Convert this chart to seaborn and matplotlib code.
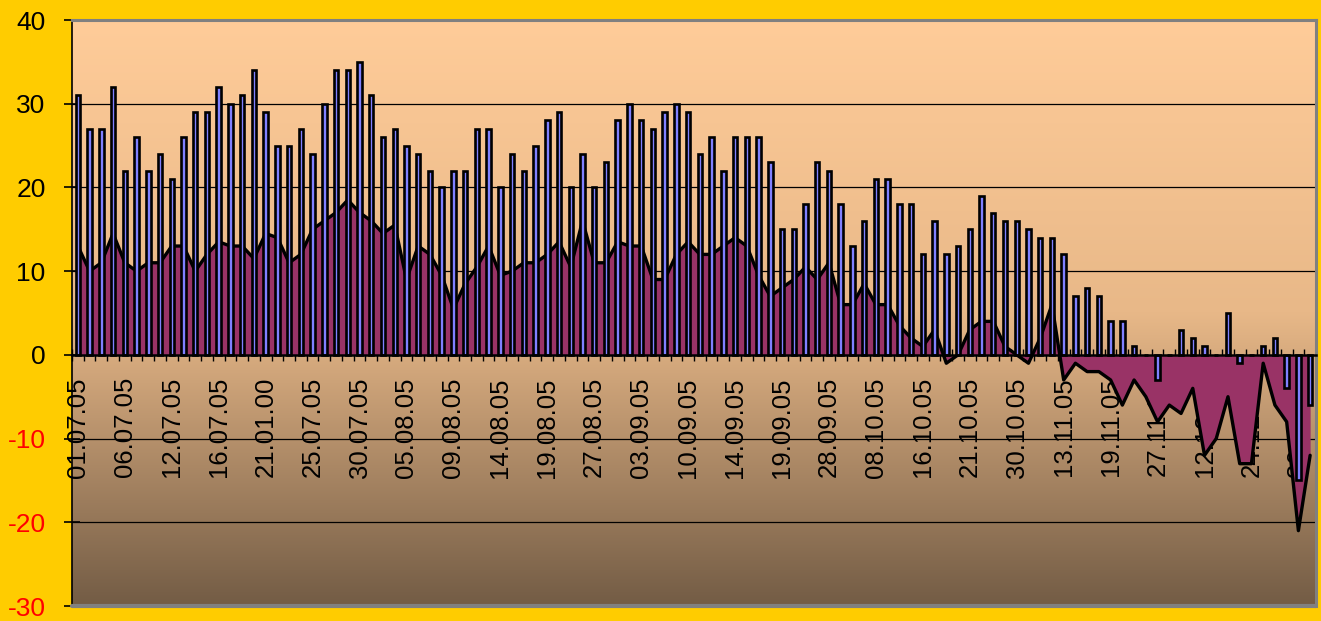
import numpy as np
import matplotlib
matplotlib.use("Agg")
import matplotlib.pyplot as plt
import seaborn as sns
from matplotlib.colors import LinearSegmentedColormap

# ---- data ----
bar_values = [31, 27, 27, 32, 22, 26, 22, 24, 21, 26, 29, 29, 32, 30, 31, 34, 29, 25, 25, 27,
              24, 30, 34, 34, 35, 31,
              26, 27, 25, 24, 22, 20, 22, 22, 27, 27, 20, 24, 22, 25, 28, 29, 20, 24, 20, 23,
              28, 30, 28, 27, 29, 30,
              29, 24, 26, 22, 26, 26, 26, 23, 15, 15, 18, 23, 22, 18, 13, 16, 21, 21, 18, 18,
              12, 16, 12, 13, 15, 19,
              17, 16, 16, 15, 14, 14, 12, 7, 8, 7, 4, 4, 1, 0, -3, 0, 3, 2, 1, 0, 5, -1, 0, 1,
              2, -4, -15, -6]

area_values = [13, 10, 11, 14.5, 11, 10, 11, 11, 13, 13, 10, 12, 13.5, 13, 13, 11.5, 14.5, 14,
               11, 12, 15, 16, 17, 18.5, 17, 16, 14.5, 15.5, 9, 13, 12, 9.5, 5.5, 8.5, 10.5, 13,
               9.5, 10, 11, 11, 12, 13.5, 10.5, 16, 11, 11, 13.5, 13, 13, 9, 9, 12, 13.5, 12,
               12, 13, 14, 13, 9.5, 7, 8, 9, 10.5, 9, 11, 6, 6, 8.5, 6, 6, 3.5, 2,
               1, 3, -1, 0, 3, 4, 4, 1, 0, -1, 2, 6, -3, -1, -2, -2, -3, -6, -3, -5,
               -8, -6, -7, -4, -12, -10, -5, -13, -13, -1, -6, -8, -21, -12]

tick_labels = ["01.07.05", "06.07.05", "12.07.05", "16.07.05", "21.01.00", "25.07.05",
               "30.07.05", "05.08.05", "09.08.05", "14.08.05", "19.08.05", "27.08.05",
               "03.09.05", "10.09.05", "14.09.05", "19.09.05", "28.09.05", "08.10.05",
               "16.10.05", "21.10.05", "30.10.05", "13.11.05", "19.11.05", "27.11.05",
               "12.12.05", "24.12.05", "30.12.05"]
label_step = 4
y_ticks = [-30, -20, -10, 0, 10, 20, 30, 40]

# ---- styling ----
sns.set_theme(style="white")
plt.rcParams['font.family'] = ['Liberation Sans', 'DejaVu Sans']

W, H = 1321, 621
fig = plt.figure(figsize=(W / 100, H / 100), dpi=100, facecolor='#FFCC00')
ax = fig.add_axes([72 / W, 15 / H, 1244 / W, 586 / H])

n = len(bar_values)
x = np.arange(n)

# gradient plot background
grad = np.linspace(0, 1, 256).reshape(-1, 1)
cmap = LinearSegmentedColormap.from_list('bg', ['#FFCC99', '#E8B888', '#735C45'])
ax.imshow(grad, cmap=cmap, aspect='auto', extent=[-0.5, n - 0.5, -30, 40],
          origin='upper', zorder=0, interpolation='bilinear')

# gridlines
for yv in [30, 20, 10, -10, -20]:
    ax.axhline(yv, color='black', lw=0.9, zorder=1)

# area series
ax.fill_between(x, area_values, 0, color='#993366', lw=0, zorder=2)
sns.lineplot(x=x, y=area_values, color='black', lw=2.4, ax=ax, zorder=2.5, sort=False)

# bar series
sns.barplot(x=x, y=bar_values, color='#8080FF', saturation=1, width=0.38,
            edgecolor='black', linewidth=1.9, errorbar=None, ax=ax, zorder=3)

ax.set_xlim(-0.5, n - 0.5)
ax.set_ylim(-30, 40)
ax.set_xlabel('')
ax.set_ylabel('')

# x axis at zero
ax.spines['bottom'].set_position(('data', 0))
ax.spines['bottom'].set_color('black')
ax.spines['bottom'].set_linewidth(1.8)
ax.spines['bottom'].set_zorder(4)
ax.set_xticks(x[::label_step])
ax.set_xticklabels(tick_labels, rotation=90, fontsize=18.5, color='black')
ax.set_xticks(np.arange(-0.5, n, 1), minor=True)
ax.tick_params(axis='x', which='major', length=0, pad=16)
ax.tick_params(axis='x', which='minor', length=9, width=1, direction='inout',
               color='black', bottom=True)

# y axis
ax.spines['left'].set_color('black')
ax.spines['left'].set_linewidth(1.2)
ax.set_yticks(y_ticks)
ax.set_yticklabels([str(v) for v in y_ticks], fontsize=19)
ax.tick_params(axis='y', which='major', length=12, width=1.2, direction='inout',
               color='black', pad=13, left=True)
for lab, v in zip(ax.get_yticklabels(), y_ticks):
    lab.set_color('#FF0000' if v < 0 else 'black')

# gray frame (top, right, bottom)
for side in ['top', 'right']:
    ax.spines[side].set_color('#808080')
    ax.spines[side].set_linewidth(2.2)
ax.axhline(-30, color='#808080', lw=3, zorder=5, clip_on=False)

fig.savefig('out.png', dpi=100, facecolor='#FFCC00')
